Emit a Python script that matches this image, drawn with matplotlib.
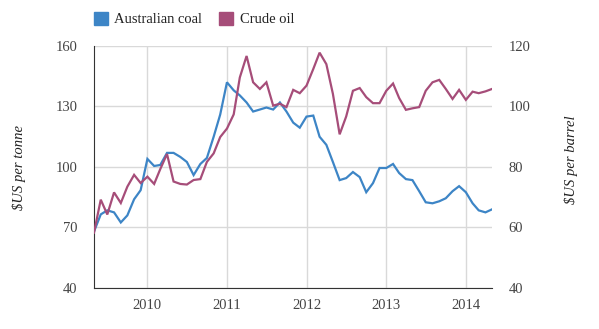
import matplotlib
matplotlib.use("Agg")
import matplotlib.pyplot as plt
import matplotlib.dates as mdates
from matplotlib.patches import Patch
import pandas as pd

# monthly prices, May 2009 - May 2014
months = pd.date_range("2009-05-01", periods=61, freq="MS")

coal = [68, 76.5, 78.5, 77.5, 72.5, 76, 84, 88.5, 104, 100.5,
        101, 107, 107, 105, 102.5, 96, 101.5, 104.5, 115, 126,
        142, 138, 135.5, 132, 127.5, 128.5, 129.5, 128.5, 132, 127.5,
        122, 119.5, 125, 125.5, 115, 111, 102.5, 93.5, 94.5, 97.5,
        95, 87.5, 92, 99.5, 99.5, 101.5, 97, 94, 93.5, 88,
        82.5, 82, 83, 84.5, 88, 90.5, 87.5, 82, 78.5, 77.5, 79]

oil = [58.3, 69.2, 64.3, 71.6, 68.1, 73.5, 77.4, 74.7, 76.8, 74.4,
       79.3, 84.3, 75.2, 74.4, 74.2, 75.7, 76, 81.7, 84.5, 89.9,
       92.7, 97.4, 109.6, 116.7, 108, 105.8, 108, 100.3, 100.9, 99.8,
       105.5, 104.4, 106.9, 112.4, 117.8, 114, 104.2, 90.8, 96.7, 105.2,
       106.1, 103.1, 101.1, 101.1, 105.2, 107.6, 102.8, 98.9, 99.4, 99.8,
       105.2, 108, 108.8, 105.8, 102.5, 105.5, 102.2, 104.9, 104.4, 105, 105.8]

coal_ticks = [40, 70, 100, 130, 160]
oil_ticks = [40, 60, 80, 100, 120]

COAL_COL = "#3d85c6"
OIL_COL = "#a64d79"
TXT = "#444444"
GRID = "#d9d9d9"

plt.rcParams["font.family"] = ["Liberation Serif", "DejaVu Serif"]

fig = plt.figure(figsize=(5.99, 3.29), dpi=100)
ax = fig.add_axes([94 / 599, 1 - 288 / 329, 398 / 599, 242 / 329])
ax2 = ax.twinx()

ax.plot(months, coal, color=COAL_COL, lw=1.6, solid_joinstyle="miter")
ax2.plot(months, oil, color=OIL_COL, lw=1.6, solid_joinstyle="miter")

ax.set_xlim(months[0], months[-1])
ax.set_ylim(40, 160)
ax2.set_ylim(40, 120)
ax.set_yticks(coal_ticks)
ax2.set_yticks(oil_ticks)

ax.xaxis.set_major_locator(mdates.YearLocator())
ax.xaxis.set_major_formatter(mdates.DateFormatter("%Y"))

ax.grid(True, color=GRID, lw=1)
ax.set_axisbelow(True)

for a in (ax, ax2):
    for s in ("top", "right"):
        a.spines[s].set_visible(False)
    a.tick_params(length=0, labelsize=10.5, colors=TXT)
ax2.spines["left"].set_visible(False)
ax2.spines["bottom"].set_visible(False)
ax.spines["left"].set_color("#333333")
ax.spines["bottom"].set_color("#333333")
ax.tick_params(axis="y", pad=12)
ax.tick_params(axis="x", pad=8)
ax2.tick_params(axis="y", pad=12)

ax.set_ylabel("$US per tonne", fontstyle="italic", fontsize=10.5, color="#222222")
ax.yaxis.set_label_coords(-0.172, 0.5)
ax2.set_ylabel("$US per barrel", fontstyle="italic", fontsize=10.5, color="#222222",
               rotation=90)
ax2.yaxis.set_label_coords(1.18, 0.53)

handles = [Patch(color=COAL_COL, label="Australian coal"),
           Patch(color=OIL_COL, label="Crude oil")]
fig.legend(handles=handles, loc="upper left", bbox_to_anchor=(94 / 599, 1 - 12 / 329),
           ncol=2, frameon=False, handlelength=0.95, handleheight=0.95,
           handletextpad=0.45, columnspacing=1.15, prop={"size": 10.5},
           borderpad=0, borderaxespad=0, labelcolor="#222222")

fig.savefig("out.png", dpi=100)
